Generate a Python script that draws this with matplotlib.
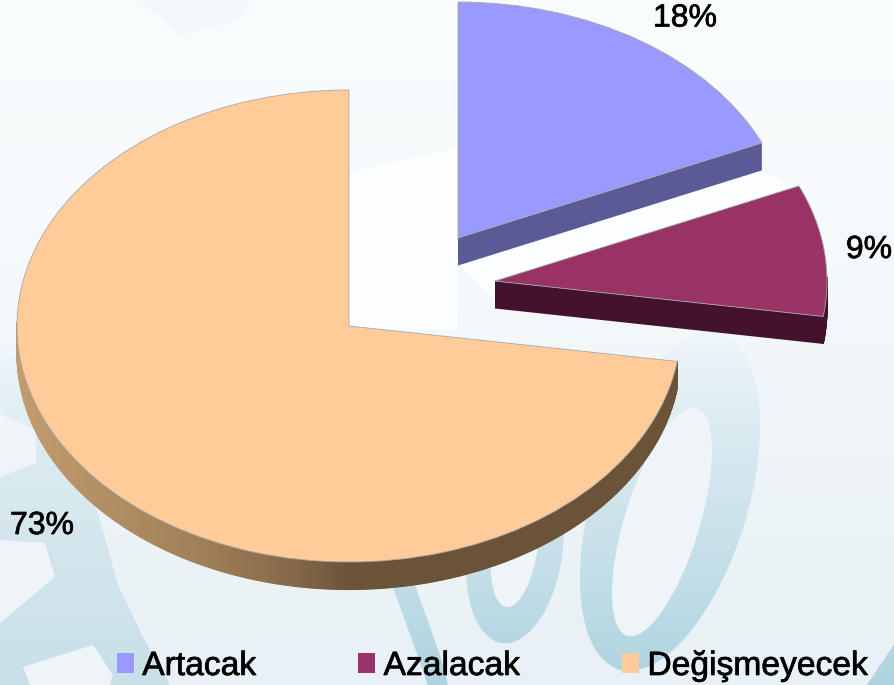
#!/usr/bin/env python3
"""Exploded pseudo-3D pie chart over a pale watermark background."""

import numpy as np
import matplotlib
matplotlib.use("Agg")
import matplotlib.pyplot as plt
import matplotlib.patheffects as pe
from matplotlib.colors import LinearSegmentedColormap
from matplotlib.patches import Ellipse, Polygon

labels = ["Artacak", "Azalacak", "Değişmeyecek"]
values = [18.4, 9.0, 72.6]
top_colors = ["#9999ff", "#993366", "#ffcc99"]
cut_colors = ["#5a5a96", "#43132d", "#6b5339"]

W, H = 895, 685
RX, RY = 332.0, 236.0     # pie radii in pixels
CX, CY = 349.0, 326.0     # centre of the unexploded pie
DEPTH = 27.5 / RY
centers_px = [(458, 238), (495, 281), (349, 326)]
label_px = [(685, 18.5), (869, 250), (42, 526)]

plt.rcParams["font.family"] = ["Liberation Sans", "DejaVu Sans"]

fig = plt.figure(figsize=(W / 100, H / 100), dpi=100)

# background, in pixel coordinates
bg = fig.add_axes([0, 0, 1, 1])

base_cmap = LinearSegmentedColormap.from_list(
    "base", ["#fafdfe", "#f6fafc", "#eef4f8", "#e8f1f5"])
zero_cmap = LinearSegmentedColormap.from_list(
    "zero", ["#eef6f9", "#d8e9f0", "#c4dfe8", "#aed3e0"])
gear_cmap = LinearSegmentedColormap.from_list(
    "gear", ["#f0f7fa", "#dcebf1", "#d2e5ec", "#c8e0e8"])
grad = np.linspace(0, 1, 256).reshape(-1, 1)
bg.imshow(grad, cmap=base_cmap, extent=(0, W, H, 0), aspect="auto", zorder=0)


def watermark(patch, cmap=zero_cmap):
    """Fill a patch with a blue vertical gradient."""
    bg.add_patch(patch)
    im = bg.imshow(grad, cmap=cmap, extent=(0, W, H, 330), aspect="auto",
                   zorder=patch.get_zorder())
    im.set_clip_path(patch)


def base_fill(patch):
    patch.set_facecolor("#eef4f8")
    patch.set_edgecolor("none")
    bg.add_patch(patch)


# gear band, lower left
watermark(Polygon([(0, 353), (20, 360), (40, 420), (70, 470), (97, 510),
                   (118, 585), (143, 637), (170, 685), (0, 685)],
                  closed=True, fc="none", ec="none", zorder=1), gear_cmap)
base_fill(Polygon([(0, 414), (36, 430), (36, 463), (0, 477)], closed=True, zorder=2))
base_fill(Polygon([(0, 540), (45, 543), (55, 577), (0, 623)], closed=True, zorder=2))
base_fill(Polygon([(23, 667), (93, 645), (113, 675), (110, 685), (30, 685)],
                  closed=True, zorder=2))
# the "100" mark
watermark(Polygon([(393, 587), (415, 585), (440, 655), (448, 685), (428, 685)],
                  closed=True, fc="none", ec="none", zorder=1))
watermark(Ellipse((515, 550), 95, 188, angle=8, fc="none", ec="none", zorder=1))
base_fill(Ellipse((515, 545), 46, 125, angle=8, zorder=2))
watermark(Ellipse((670, 502), 155, 350, angle=17, fc="none", ec="none", zorder=1))
base_fill(Ellipse((662, 522), 75, 238, angle=17, zorder=2))
# corner and the pale patches behind the gap
watermark(Polygon([(867, 685), (895, 643), (895, 685)], closed=True,
                  fc="none", ec="none", zorder=1))
bg.add_patch(Polygon([(349, 172), (458, 148), (458, 330), (349, 330)], closed=True,
                     fc="#fdfeff", ec="none", zorder=2))
bg.add_patch(Polygon([(460, 265), (760, 170), (800, 190), (495, 300)], closed=True,
                     fc="#fdfeff", ec="none", zorder=2))
bg.add_patch(Polygon([(140, 0), (250, 0), (240, 20), (180, 35)], closed=True,
                     fc="#f4f7fa", ec="none", zorder=2))
bg.set_xlim(0, W)
bg.set_ylim(H, 0)
bg.axis("off")

# pie, x and y scaled so one data unit is one radius
ax = fig.add_axes([0, 0, 1, 1], zorder=1)
ax.patch.set_alpha(0)
wedges, _ = ax.pie(values, colors=top_colors, startangle=90, counterclock=False,
                   wedgeprops={"linewidth": 0.6, "edgecolor": "#a8a8a8"})
ax.set_aspect("auto")
ax.set_xlim(-CX / RX, (W - CX) / RX)
ax.set_ylim((CY - H) / RY, CY / RY)

side_cmap = LinearSegmentedColormap.from_list(
    "side", [(0, "#c29c6e"), (0.275, "#a08058"), (0.41, "#86694a"),
             (0.5, "#6b5339"), (1, "#6b5339")])

for w, col, (px, py) in zip(wedges, cut_colors, centers_px):
    cx, cy = (px - CX) / RX, (CY - py) / RY
    w.set_center((cx, cy))
    w.set_zorder(3)

    # cut face along the lower radial edge of the exploded slices
    if col != cut_colors[2]:
        ex = cx + np.cos(np.radians(w.theta1))
        ey = cy + np.sin(np.radians(w.theta1))
        ax.fill([cx, ex, ex, cx], [cy, ey, ey - DEPTH, cy - DEPTH],
                color=col, lw=0, zorder=2)

    # rim, only where the arc faces the viewer
    t1, t2 = min(w.theta1, w.theta2), max(w.theta1, w.theta2)
    ts = np.clip(np.arange(np.floor(t1), t2 + 0.5, 0.5), t1, t2)
    for a, b in zip(ts[:-1], ts[1:]):
        if np.sin(np.radians(a)) > 0.01 and np.sin(np.radians(b)) > 0.01:
            continue
        xa, ya = cx + np.cos(np.radians(a)), cy + np.sin(np.radians(a))
        xb, yb = cx + np.cos(np.radians(b)), cy + np.sin(np.radians(b))
        shade = col
        if col == cut_colors[2]:
            shade = side_cmap((xa + 1) / 2)
        ax.fill([xa, xb, xb, xa], [ya, yb, yb - DEPTH, ya - DEPTH],
                facecolor=shade, edgecolor=shade, lw=0.8, zorder=2)

heavy = [pe.withStroke(linewidth=0.5, foreground="black")]

# percentage labels
total = sum(values)
for v, (lx, ly) in zip(values, label_px):
    fig.text(lx / W, 1 - ly / H, f"{v / total * 100:.0f}%", fontsize=23,
             ha="center", va="center", color="black", zorder=5,
             path_effects=heavy)

# legend
leg = ax.legend(wedges, labels, ncol=3, frameon=False, fontsize=24.2,
                handlelength=0.5, handleheight=0.5, handletextpad=0.25,
                columnspacing=3.05, borderpad=0, borderaxespad=0,
                loc="lower left", bbox_to_anchor=(117 / W, 1 - 682 / H))
for h in leg.legend_handles:
    h.set_linewidth(0)
for t in leg.get_texts():
    t.set_path_effects(heavy)

fig.savefig("out.png", dpi=100)
